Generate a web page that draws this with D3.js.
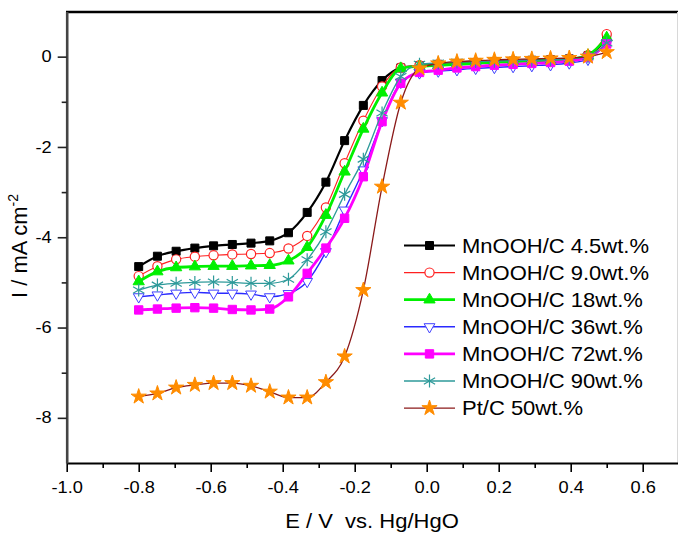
<!DOCTYPE html>
<html>
<head>
<meta charset='utf-8'>
<title>LSV curves MnOOH/C</title>
<style>
  body {margin: 0; background: #fff}
  text {font-family: "Liberation Sans", Arial, sans-serif; fill: #000}
</style>
</head>
<body>
<script src='https://d3js.org/d3.v7.min.js'></script>
<script>

var W = 678, H = 533;

// potential of each marker (V vs. Hg/HgO)
var potential = [-0.8, -0.748, -0.696, -0.644, -0.592, -0.54, -0.488, -0.436, -0.384, -0.332,
                 -0.28, -0.228, -0.176, -0.124, -0.072, -0.02, 0.032, 0.084, 0.136, 0.188,
                 0.24, 0.292, 0.344, 0.396, 0.448, 0.5];

// current density, mA cm-2
var mnooh45 = [-4.65, -4.42, -4.31, -4.24, -4.19, -4.16, -4.13, -4.08, -3.90, -3.45,
               -2.78, -1.86, -1.08, -0.53, -0.25, -0.20, -0.17, -0.15, -0.13, -0.11,
               -0.10, -0.08, -0.07, -0.05, 0.02, 0.40];
var mnooh90 = [-4.86, -4.64, -4.49, -4.43, -4.40, -4.38, -4.37, -4.35, -4.25, -3.97,
               -3.34, -2.36, -1.42, -0.66, -0.24, -0.19, -0.17, -0.15, -0.13, -0.12,
               -0.10, -0.09, -0.07, -0.05, 0.03, 0.50];
var mnooh18 = [-4.98, -4.76, -4.67, -4.65, -4.64, -4.64, -4.63, -4.62, -4.52, -4.22,
               -3.51, -2.55, -1.60, -0.80, -0.26, -0.21, -0.19, -0.17, -0.15, -0.13,
               -0.11, -0.10, -0.08, -0.06, 0.03, 0.42];
var mnooh36 = [-5.32, -5.28, -5.24, -5.22, -5.24, -5.24, -5.26, -5.32, -5.25, -4.98,
               -4.32, -3.40, -2.51, -1.42, -0.57, -0.36, -0.32, -0.29, -0.26, -0.24,
               -0.22, -0.20, -0.18, -0.14, -0.06, 0.30];
var mnooh72 = [-5.61, -5.59, -5.57, -5.56, -5.57, -5.60, -5.61, -5.59, -5.32, -4.80,
               -4.24, -3.58, -2.66, -1.44, -0.59, -0.35, -0.30, -0.25, -0.22, -0.19,
               -0.17, -0.15, -0.13, -0.10, -0.02, 0.28];
var mnooh90wt = [-5.17, -5.06, -5.02, -5.00, -4.99, -5.00, -5.02, -5.02, -4.93, -4.50,
                 -3.88, -3.05, -2.27, -1.25, -0.44, -0.17, -0.14, -0.12, -0.11, -0.10,
                 -0.09, -0.08, -0.07, -0.05, 0.00, 0.30];
var ptc50 = [-7.53, -7.46, -7.33, -7.27, -7.23, -7.23, -7.29, -7.42, -7.55, -7.55,
             -7.21, -6.64, -5.17, -2.88, -1.02, -0.26, -0.15, -0.11, -0.09, -0.07,
             -0.06, -0.05, -0.04, -0.03, 0.00, 0.10];

var seriesNames = ["MnOOH/C 4.5wt.%", "MnOOH/C 9.0wt.%", "MnOOH/C 18wt.%", "MnOOH/C 36wt.%",
                   "MnOOH/C 72wt.%", "MnOOH/C 90wt.%", "Pt/C 50wt.%"];
var seriesValues = [mnooh45, mnooh90, mnooh18, mnooh36, mnooh72, mnooh90wt, ptc50];

var xMajor = [-1.0, -0.8, -0.6, -0.4, -0.2, 0.0, 0.2, 0.4, 0.6];
var xMinor = [-0.9, -0.7, -0.5, -0.3, -0.1, 0.1, 0.3, 0.5];
var yMajor = [-8, -6, -4, -2, 0];
var yMinor = [-7, -5, -3, -1];

// look of each series
var styles = [
  {line: "#000000", lw: 2.2, marker: "square",  fill: "#000000", stroke: "#000000", size: 64},
  {line: "#ff2020", lw: 1.1, marker: "circle",  fill: "#ffffff", stroke: "#ff2020", size: 4.6},
  {line: "#00f000", lw: 2.8, marker: "triUp",   fill: "#00f000", stroke: "#00f000", size: 55},
  {line: "#2a2aff", lw: 1.4, marker: "triDown", fill: "#ffffff", stroke: "#4040ff", size: 50},
  {line: "#ff00ff", lw: 2.8, marker: "square",  fill: "#ff00ff", stroke: "#ff00ff", size: 70},
  {line: "#2e9a9a", lw: 1.3, marker: "aster",   fill: "none",    stroke: "#2e9a9a", size: 6.5},
  {line: "#8b1a1a", lw: 1.3, marker: "star",    fill: "#ff8c00", stroke: "#ff8c00", size: 72}
];

var svg = d3.select("body").append("svg").attr("width", W).attr("height", H);

var x = d3.scaleLinear().domain([-1.0, 0.7]).range([66.7, 678.7]);
var y = d3.scaleLinear().domain([-9, 1]).range([463, 11.5]);

// frame
svg.append("line").attr("x1", 66).attr("x2", W).attr("y1", 12).attr("y2", 12)
  .attr("stroke", "#000").attr("stroke-width", 2.4);
svg.append("line").attr("x1", 677.5).attr("x2", 677.5).attr("y1", 12).attr("y2", 463)
  .attr("stroke", "#d8d8d8").attr("stroke-width", 1);

function stretchText(sel, sx, dx) {
  sel.each(function() {
    var t = d3.select(this);
    t.attr("x", 0).attr("transform", "translate(" + dx + ",0) scale(" + sx + ",1)");
  });
}

var xAxis = svg.append("g").attr("transform", "translate(0,463)")
  .call(d3.axisBottom(x).tickValues(xMajor).tickSize(9).tickSizeOuter(0).tickPadding(10)
        .tickFormat(function(d) { return d.toFixed(1); }));
xAxis.select(".domain").attr("stroke", "#000").attr("stroke-width", 2);
xAxis.selectAll(".tick line").attr("stroke", "#000").attr("stroke-width", 1.6);
xAxis.selectAll("text").attr("font-size", 16).attr("fill", "#111").call(stretchText, 1.14, 0);

var xAxisMinor = svg.append("g").attr("transform", "translate(0,463)")
  .call(d3.axisBottom(x).tickValues(xMinor).tickSize(5).tickSizeOuter(0).tickFormat(""));
xAxisMinor.select(".domain").remove();
xAxisMinor.selectAll(".tick line").attr("stroke", "#000").attr("stroke-width", 1.6);

var yAxis = svg.append("g").attr("transform", "translate(66.7,0)")
  .call(d3.axisLeft(y).tickValues(yMajor).tickSize(9).tickSizeOuter(0).tickPadding(6)
        .tickFormat(function(d) { return String(d); }));
yAxis.select(".domain").attr("stroke", "#444").attr("stroke-width", 2.6);
yAxis.selectAll(".tick line").attr("stroke", "#222").attr("stroke-width", 1.6);
yAxis.selectAll("text").attr("font-size", 16).attr("fill", "#111").call(stretchText, 1.14, -15);

var yAxisMinor = svg.append("g").attr("transform", "translate(66.7,0)")
  .call(d3.axisLeft(y).tickValues(yMinor).tickSize(5).tickSizeOuter(0).tickFormat(""));
yAxisMinor.select(".domain").remove();
yAxisMinor.selectAll(".tick line").attr("stroke", "#222").attr("stroke-width", 1.6);

// axis titles
svg.append("text")
  .attr("transform", "translate(372,528) scale(1.1,1)")
  .attr("text-anchor", "middle").attr("font-size", 20).attr("fill", "#111")
  .text("E / V\u00a0\u00a0vs. Hg/HgO");

var yTitle = svg.append("text")
  .attr("transform", "translate(27,246) rotate(-90)")
  .attr("text-anchor", "middle").attr("font-size", 22).attr("fill", "#111");
yTitle.append("tspan").text("I / mA cm");
yTitle.append("tspan").attr("font-size", 14).attr("dy", -9).text("-2");

// markers
function drawMarker(g, st, cx, cy) {
  if (st.marker == "circle") {
    g.append("circle").attr("cx", cx).attr("cy", cy).attr("r", st.size)
      .attr("fill", st.fill).attr("stroke", st.stroke).attr("stroke-width", 1.2);
  } else if (st.marker == "aster") {
    var r = st.size, c = r * Math.cos(Math.PI / 6), s = r * Math.sin(Math.PI / 6);
    var p = "M0," + (-r) + "L0," + r +
            "M" + (-c) + "," + (-s) + "L" + c + "," + s +
            "M" + (-c) + "," + s + "L" + c + "," + (-s);
    g.append("path").attr("d", p).attr("transform", "translate(" + cx + "," + cy + ")")
      .attr("fill", "none").attr("stroke", st.stroke).attr("stroke-width", 1.2);
  } else {
    var type = d3.symbolSquare, rot = 0;
    if (st.marker == "triUp") type = d3.symbolTriangle;
    if (st.marker == "triDown") { type = d3.symbolTriangle; rot = 180; }
    if (st.marker == "star") type = d3.symbolStar;
    g.append("path").attr("d", d3.symbol().type(type).size(st.size)())
      .attr("transform", "translate(" + cx + "," + cy + ") rotate(" + rot + ")")
      .attr("fill", st.fill).attr("stroke", st.stroke).attr("stroke-width", 1);
  }
}

var line = d3.line()
  .x(function(d) { return x(d[0]); })
  .y(function(d) { return y(d[1]); })
  .curve(d3.curveMonotoneX);

var plot = svg.append("g");
seriesValues.forEach(function(vals, i) {
  var st = styles[i];
  var pts = vals.map(function(v, k) { return [potential[k], v]; });
  var g = plot.append("g");
  g.append("path").datum(pts).attr("d", line)
    .attr("fill", "none").attr("stroke", st.line).attr("stroke-width", st.lw);
  pts.forEach(function(p) { drawMarker(g, st, x(p[0]), y(p[1])); });
});

// legend
var legend = svg.append("g");
seriesNames.forEach(function(name, i) {
  var st = styles[i];
  var cy = 245.5 + i * 27.1;
  var g = legend.append("g");
  g.append("line").attr("x1", 404).attr("x2", 455).attr("y1", cy).attr("y2", cy)
    .attr("stroke", st.line).attr("stroke-width", st.lw);
  drawMarker(g, st, 429.5, cy);
  g.append("text").attr("transform", "translate(462," + (cy + 7) + ") scale(1.1,1)")
    .attr("font-size", 20).attr("fill", "#111").text(name);
});

</script>
</body>
</html>
